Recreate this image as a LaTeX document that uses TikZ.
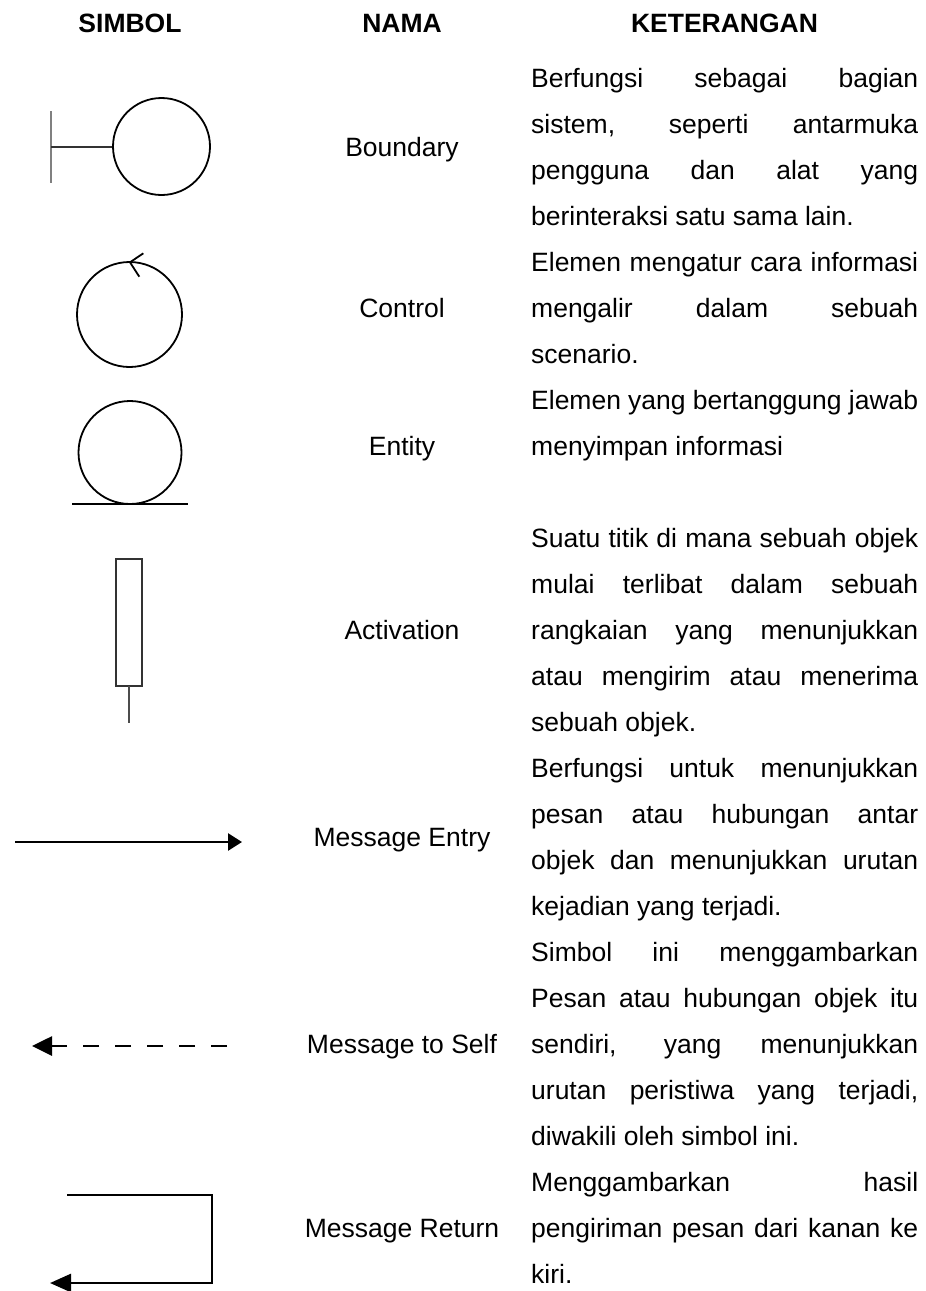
\documentclass[tikz,border=0pt]{standalone}
\usepackage{fontspec}
\setmainfont{Liberation Sans}
\usetikzlibrary{arrows.meta}

% width of the description column
\newlength{\colw}\setlength{\colw}{387pt}
% a justified line and a last (ragged) line of a description
\newcommand{\jl}[1]{\hbox to\colw{\spaceskip=0.278em plus 1fil minus 0.05em\relax #1}}
\newcommand{\lastln}[1]{\hbox{#1}}

\tikzset{
  bodytxt/.style={font=\fontsize{26.5pt}{46pt}\selectfont, inner sep=0pt},
  headtxt/.style={font=\fontsize{26.5pt}{46pt}\selectfont\bfseries, inner sep=0pt, anchor=base},
  desctxt/.style={bodytxt, anchor=base west},
  nametxt/.style={bodytxt, anchor=base},
  symline/.style={line width=1.8pt, black},
  arrowline/.style={line width=2.7pt, black, line join=miter},
}

\begin{document}
\begin{tikzpicture}[x=1pt,y=-1pt]
\useasboundingbox[fill=white] (0,0) rectangle (926,1291);

% column headings
\node[headtxt] (hSym)  at (130,32) {SIMBOL};
\node[headtxt] (hName) at (402,32) {NAMA};
\node[headtxt] (hDesc) at (724.5,32) {KETERANGAN};

% names
\node[nametxt] (nBoundary) at (402,156)  {Boundary};
\node[nametxt] (nControl)  at (402,317)  {Control};
\node[nametxt] (nEntity)   at (402,455)  {Entity};
\node[nametxt] (nActiv)    at (402,639)  {Activation};
\node[nametxt] (nEntry)    at (402,846)  {Message Entry};
\node[nametxt] (nSelf)     at (402,1053) {Message to Self};
\node[nametxt] (nReturn)   at (402,1237) {Message Return};

% descriptions
\node[desctxt] (dBoundary) at (531,87) {\vtop{%
  \jl{Berfungsi sebagai bagian}
  \jl{sistem, seperti antarmuka}
  \jl{pengguna dan alat yang}
  \lastln{berinteraksi satu sama lain.}}};
\node[desctxt] (dControl) at (531,271) {\vtop{%
  \jl{Elemen mengatur cara informasi}
  \jl{mengalir dalam sebuah}
  \lastln{scenario.}}};
\node[desctxt] (dEntity) at (531,409) {\vtop{%
  \jl{Elemen yang bertanggung jawab}
  \lastln{menyimpan informasi}}};
\node[desctxt] (dActiv) at (531,547) {\vtop{%
  \jl{Suatu titik di mana sebuah objek}
  \jl{mulai terlibat dalam sebuah}
  \jl{rangkaian yang menunjukkan}
  \jl{atau mengirim atau menerima}
  \lastln{sebuah objek.}}};
\node[desctxt] (dEntry) at (531,777) {\vtop{%
  \jl{Berfungsi untuk menunjukkan}
  \jl{pesan atau hubungan antar}
  \jl{objek dan menunjukkan urutan}
  \lastln{kejadian yang terjadi.}}};
\node[desctxt] (dSelf) at (531,961) {\vtop{%
  \jl{Simbol ini menggambarkan}
  \jl{Pesan atau hubungan objek itu}
  \jl{sendiri, yang menunjukkan}
  \jl{urutan peristiwa yang terjadi,}
  \lastln{diwakili oleh simbol ini.}}};
\node[desctxt] (dReturn) at (531,1191) {\vtop{%
  \jl{Menggambarkan hasil}
  \jl{pengiriman pesan dari kanan ke}
  \lastln{kiri.}}};

% boundary symbol
\draw[line width=1.6pt, black!50] (51,111) -- (51,183);
\draw[line width=1.8pt, black!80] (51,147) -- (113,147);
\draw[symline] (161.5,146.5) circle[radius=48.5pt];

% control symbol
\draw[symline] (129.5,314.5) circle[radius=52.5pt];
\draw[symline] (143.3,253.3) -- (130,262.3) -- (139.3,276.7);

% entity symbol
\draw[symline] (130,452.5) circle[radius=51.5pt];
\draw[symline] (72,504) -- (188,504);

% activation symbol
\draw[line width=1.6pt, black!80] (116,559) rectangle (142,686);
\draw[line width=1.6pt, black!70] (129,686) -- (129,723);

% message entry
\coordinate (eS) at (15,842);
\coordinate (eT) at (242,842);
\draw[arrowline, -{Triangle[length=14pt,width=17pt]}] (eS) -- (eT);

% message to self
\coordinate (sS) at (227,1046);
\coordinate (sT) at (32,1046);
\draw[arrowline, dash pattern=on 16.5pt off 15.5pt,
      -{Triangle[length=20pt,width=19pt]}] (sS) -- (sT);

% message return
\coordinate (rS) at (67,1195);
\coordinate (rC) at (212,1195);
\coordinate (rD) at (212,1283);
\coordinate (rT) at (50,1283);
\draw[arrowline, -{Triangle[length=21pt,width=18pt]}] (rS) -- (rC) -- (rD) -- (rT);
\end{tikzpicture}
\end{document}
